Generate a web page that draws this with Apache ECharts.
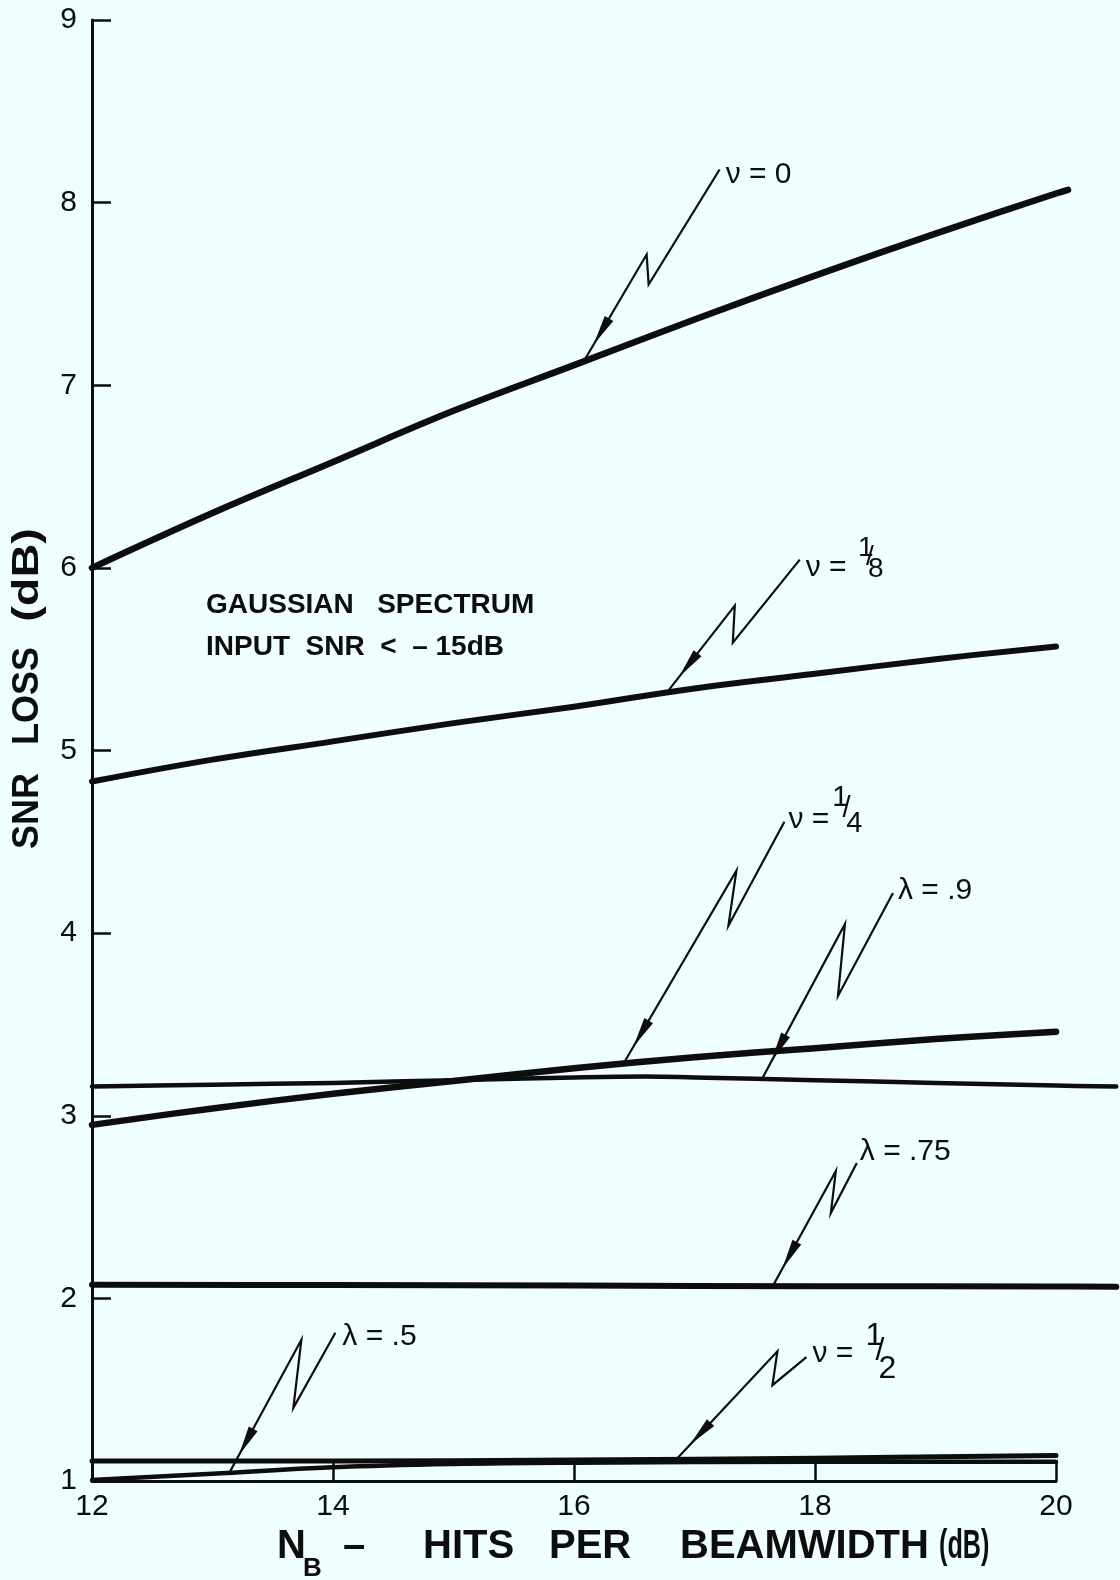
<!DOCTYPE html>
<html><head><meta charset="utf-8">
<style>html,body{margin:0;padding:0;background:#effefe}#c{width:1120px;height:1580px}</style>
<script src="https://cdn.jsdelivr.net/npm/echarts@6/dist/echarts.min.js"></script>
</head><body><div id="c"></div>
<script>
// ---- data ----
const xTickLabels = ['12', '14', '16', '18', '20'];
const yTickLabels = ['1', '2', '3', '4', '5', '6', '7', '8', '9'];

const nu0X  = [12, 13, 14, 15, 16, 17, 18, 19, 20, 20.1];
const nu0Y  = [6.0, 6.3, 6.58, 6.86, 7.11, 7.36, 7.6, 7.83, 8.05, 8.07];

const nu18X = [12, 13, 14, 15, 16, 17, 18, 19, 20];
const nu18Y = [4.83, 4.95, 5.05, 5.15, 5.24, 5.34, 5.42, 5.5, 5.57];

const nu14X = [12, 13, 14, 15, 16, 17, 18, 19, 20];
const nu14Y = [2.95, 3.04, 3.12, 3.19, 3.26, 3.32, 3.37, 3.42, 3.46];

const lam9X = [12, 13, 14, 15, 16, 16.6, 17, 18, 19, 20, 20.5];
const lam9Y = [3.16, 3.17, 3.18, 3.195, 3.21, 3.215, 3.21, 3.195, 3.18, 3.165, 3.16];

const lam75X = [12, 14, 16, 18, 20, 20.5];
const lam75Y = [2.075, 2.073, 2.07, 2.067, 2.065, 2.063];

const nu12X = [12, 14, 16, 18, 20];
const nu12Y = [1.11, 1.11, 1.115, 1.125, 1.14];

const lam5X = [12, 13, 14, 15, 16, 18, 20];
const lam5Y = [1.005, 1.04, 1.075, 1.093, 1.1, 1.105, 1.105];

// ---- styling ----
const INK = '#0d0d0d';
const BG = '#effefe';
const FONT = 'Liberation Sans';

const seriesDefs = [
  { id: 'nu0',   x: nu0X,   y: nu0Y,   w: 6.5 },
  { id: 'nu18',  x: nu18X,  y: nu18Y,  w: 6 },
  { id: 'nu14',  x: nu14X,  y: nu14Y,  w: 6.5 },
  { id: 'lam9',  x: lam9X,  y: lam9Y,  w: 4.5 },
  { id: 'lam75', x: lam75X, y: lam75Y, w: 6 },
  { id: 'nu12',  x: nu12X,  y: nu12Y,  w: 5 },
  { id: 'lam5',  x: lam5X,  y: lam5Y,  w: 4.5 }
];

// annotation arrows: tip sits on the named curve at x = at; other offsets in px
const annotations = [
  { series: 'nu0',   at: 16.08, peak: [63, -107], dip: [65, -77], end: [136, -192], label: 'ν = 0',  lab: [6, 5] },
  { series: 'nu18',  at: 16.77, peak: [68, -87],  dip: [66, -50], end: [133, -133], label: 'ν =',    lab: [6, 8],
    frac: { num: '1', den: '8', fs: 28, n: [60, -19], d: [70, 2] } },
  { series: 'nu14',  at: 16.41, peak: [113, -193], dip: [105, -138], end: [161, -242], label: 'ν =', lab: [4, -2],
    frac: { num: '1', den: '4', fs: 29, n: [52, -22], d: [66, 4] } },
  { series: 'lam9',  at: 17.56, peak: [83, -155], dip: [76, -83], end: [131, -186], label: 'λ = .9', lab: [5, -2] },
  { series: 'lam75', at: 17.65, peak: [63, -115], dip: [58, -73], end: [84, -123],  label: 'λ = .75', lab: [3, -11] },
  { series: 'lam5',  at: 13.14, peak: [72, -133], dip: [64, -65], end: [106, -140], label: 'λ = .5', lab: [7, 4] },
  { series: 'nu12',  at: 16.85, peak: [101, -108], dip: [96, -74], end: [130, -102], label: 'ν =',  lab: [6, -3],
    frac: { num: '1', den: '2', fs: 32, n: [62, -18], d: [75, 15] } }
];
const LABEL_FS = 30;

const chart = echarts.init(document.getElementById('c'), null, { renderer: 'canvas', width: 1120, height: 1580 });

const axisCommon = {
  type: 'value',
  axisLine: { show: true, lineStyle: { color: INK, width: 3 } },
  axisTick: { show: true, inside: true, length: 19, lineStyle: { color: INK, width: 2.5 } },
  splitLine: { show: false }
};
const hiddenAxis = { type: 'value', show: false, splitLine: { show: false } };

// grid 0 carries the visible axes (12..20); grid 1 has the same scale but
// reaches to 20.5 so curves that run past the last tick are drawn.
const G = { left: 92, right: 64, top: 20, bottom: 99 };
const unitPx = (1120 - G.left - G.right) / 8;
const G1right = 1120 - G.left - unitPx * 8.5;

chart.setOption({
  backgroundColor: BG,
  animation: false,
  grid: [G, { left: G.left, right: G1right, top: G.top, bottom: G.bottom }],
  xAxis: [
    Object.assign({}, axisCommon, {
      gridIndex: 0, min: 12, max: 20, interval: 2,
      axisLabel: { color: INK, fontSize: 30, fontFamily: FONT, margin: 11,
        formatter: v => xTickLabels[Math.round((v - 12) / 2)] }
    }),
    Object.assign({}, hiddenAxis, { gridIndex: 1, min: 12, max: 20.5 })
  ],
  yAxis: [
    Object.assign({}, axisCommon, {
      gridIndex: 0, min: 1, max: 9, interval: 1,
      axisLabel: { color: INK, fontSize: 30, fontFamily: FONT, margin: 15,
        formatter: v => yTickLabels[Math.round(v - 1)] }
    }),
    Object.assign({}, hiddenAxis, { gridIndex: 1, min: 1, max: 9 })
  ],
  series: seriesDefs.map(d => ({
    type: 'line', name: d.id, xAxisIndex: 1, yAxisIndex: 1,
    data: d.x.map((v, i) => [v, d.y[i]]),
    smooth: 0.4,
    showSymbol: false, symbol: 'none', clip: false, silent: true,
    lineStyle: { color: INK, width: d.w, cap: 'round', join: 'round' }
  }))
});

function interp(xs, ys, x) {
  for (let i = 0; i < xs.length - 1; i++) {
    if (x >= xs[i] && x <= xs[i + 1]) {
      const t = (x - xs[i]) / (xs[i + 1] - xs[i]);
      return ys[i] + t * (ys[i + 1] - ys[i]);
    }
  }
  return ys[ys.length - 1];
}

const g = [];
annotations.forEach(a => {
  const s = seriesDefs.find(d => d.id === a.series);
  const ty = interp(s.x, s.y, a.at);
  const [px, py] = chart.convertToPixel({ gridIndex: 1 }, [a.at, ty]);
  const P = o => [px + o[0], py + o[1]];
  g.push({ type: 'polyline', z: 10, silent: true,
    shape: { points: [[px, py], P(a.peak), P(a.dip), P(a.end)] },
    style: { stroke: INK, lineWidth: 2.2, fill: null, lineJoin: 'miter' } });
  const L = Math.hypot(a.peak[0], a.peak[1]);
  const ux = a.peak[0] / L, uy = a.peak[1] / L, nx = -uy, ny = ux;
  const p1 = [px + ux * 20, py + uy * 20];
  const b = [px + ux * 50, py + uy * 50];
  g.push({ type: 'polygon', z: 10, silent: true,
    shape: { points: [p1, [b[0] + nx * 5, b[1] + ny * 5], [b[0] - nx * 5, b[1] - ny * 5]] },
    style: { fill: INK } });
  const lx = px + a.end[0] + a.lab[0], ly = py + a.end[1] + a.lab[1];
  g.push({ type: 'text', x: lx, y: ly, z: 10, silent: true,
    style: { text: a.label, fill: INK, fontSize: LABEL_FS, fontFamily: FONT, align: 'left', verticalAlign: 'middle' } });
  if (a.frac) {
    const f = a.frac;
    g.push({ type: 'text', x: lx + f.n[0], y: ly + f.n[1], z: 10, silent: true,
      style: { text: f.num, fill: INK, fontSize: f.fs, fontFamily: FONT, align: 'center', verticalAlign: 'middle' } });
    g.push({ type: 'text', x: lx + f.d[0], y: ly + f.d[1], z: 10, silent: true,
      style: { text: f.den, fill: INK, fontSize: f.fs, fontFamily: FONT, align: 'center', verticalAlign: 'middle' } });
    g.push({ type: 'text', x: lx + (f.n[0] + f.d[0]) / 2 - 1, y: ly + (f.n[1] + f.d[1]) / 2 - 2, z: 10, silent: true,
      style: { text: '/', fill: INK, fontSize: f.fs, fontFamily: FONT, align: 'center', verticalAlign: 'middle' } });
  }
});

// in-plot note
const noteLines = ['GAUSSIAN   SPECTRUM', 'INPUT  SNR  <  – 15dB'];
noteLines.forEach((t, i) => g.push({ type: 'text', x: 206, y: 605 + i * 42, z: 10, silent: true,
  style: { text: t, fill: INK, fontSize: 28, fontWeight: 'bold', fontFamily: FONT, align: 'left', verticalAlign: 'middle' } }));

// y axis title (rotated)
[['SNR', 811, 1], ['LOSS', 696, 1], ['(dB)', 575, 1.3]].forEach(([t, cy, sx]) => g.push({
  type: 'text', x: 28, y: cy, rotation: Math.PI / 2, scaleX: sx, z: 10, silent: true,
  style: { text: t, fill: INK, fontSize: 36, fontWeight: 'bold', fontFamily: FONT, align: 'center', verticalAlign: 'middle' } }));

// x axis title
[['N', 277, 1547, 40, 1], ['–', 343, 1547, 40, 1], ['HITS', 423, 1547, 40, 1], ['PER', 549, 1547, 40, 1],
 ['BEAMWIDTH', 680, 1547, 40, 1], ['(dB)', 939, 1547, 40, 0.63], ['B', 303, 1569, 26, 1]].forEach(([t, x, y, fs, sx]) => g.push({
  type: 'text', x: x, y: y, scaleX: sx, z: 10, silent: true,
  style: { text: t, fill: INK, fontSize: fs, fontWeight: 'bold', fontFamily: FONT, align: 'left', verticalAlign: 'middle' } }));

chart.setOption({ graphic: g });
</script>
</body></html>
